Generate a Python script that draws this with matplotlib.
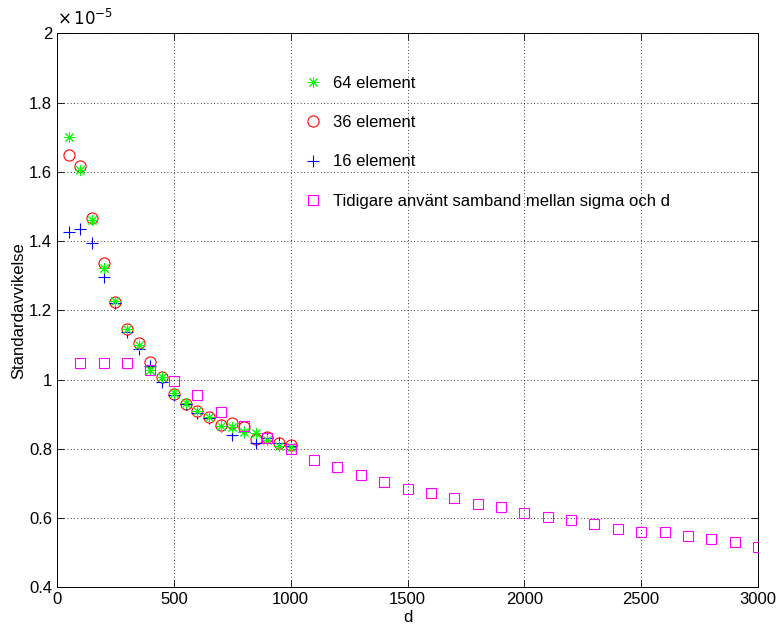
import matplotlib
matplotlib.use("Agg")
import matplotlib.pyplot as plt
import numpy as np

plt.rcParams['font.family'] = ['Liberation Sans Narrow', 'Liberation Sans', 'DejaVu Sans']

# Data (values in units of 1e-5)
d_elem = [50, 100, 150, 200, 250, 300, 350, 400, 450, 500,
          550, 600, 650, 700, 750, 800, 850, 900, 950, 1000]
sigma_64 = [1.702, 1.605, 1.461, 1.321, 1.228, 1.145, 1.100, 1.028, 1.008, 0.960,
            0.931, 0.908, 0.893, 0.866, 0.864, 0.849, 0.845, 0.825, 0.808, 0.806]
sigma_36 = [1.649, 1.617, 1.466, 1.336, 1.225, 1.145, 1.105, 1.050, 1.008, 0.958,
            0.928, 0.908, 0.893, 0.870, 0.873, 0.862, 0.827, 0.835, 0.817, 0.810]
sigma_16 = [1.427, 1.435, 1.394, 1.297, 1.220, 1.138, 1.087, 1.039, 0.994, 0.955,
            0.928, 0.902, 0.890, 0.866, 0.840, 0.849, 0.816, 0.830, 0.817, 0.808]

d_old = [100, 200, 300, 400, 500, 600, 700, 800, 900, 1000,
         1100, 1200, 1300, 1400, 1500, 1600, 1700, 1800, 1900, 2000,
         2100, 2200, 2300, 2400, 2500, 2600, 2700, 2800, 2900, 3000]
sigma_old = [1.047, 1.047, 1.047, 1.028, 0.997, 0.955, 0.907, 0.866, 0.832, 0.799,
             0.767, 0.748, 0.723, 0.705, 0.685, 0.672, 0.657, 0.641, 0.633, 0.613,
             0.602, 0.593, 0.583, 0.567, 0.559, 0.560, 0.547, 0.538, 0.530, 0.517]

labels = ['64 element', '36 element', '16 element',
          'Tidigare använt samband mellan sigma och d']
xticks = [0, 500, 1000, 1500, 2000, 2500, 3000]
yticks = [0.4, 0.6, 0.8, 1.0, 1.2, 1.4, 1.6, 1.8, 2.0]
yticklabels = ['0.4', '0.6', '0.8', '1', '1.2', '1.4', '1.6', '1.8', '2']

fig = plt.figure(figsize=(7.78, 6.28), dpi=100)
ax = fig.add_axes([57/778, 1-587.2/628, (758-57)/778, (587.2-33.4)/628])

h64, = ax.plot(d_elem, sigma_64, linestyle='none', marker=(8, 2, 0), ms=8,
               mec=(0, 1, 0), mew=0.7, label=labels[0], zorder=5)
h36, = ax.plot(d_elem, sigma_36, linestyle='none', marker='o', ms=8,
               mfc='none', mec=(1, 0, 0), mew=0.8, label=labels[1], zorder=3)
h16, = ax.plot(d_elem, sigma_16, linestyle='none', marker='+', ms=9,
               mec=(0, 0, 1), mew=0.8, label=labels[2], zorder=4)
hold, = ax.plot(d_old, sigma_old, linestyle='none', marker='s', ms=6.5,
                mfc='none', mec=(1, 0, 1), mew=0.8, label=labels[3], zorder=6)

ax.set_xlim(0, 3000)
ax.set_ylim(0.4, 2.0)
ax.set_xticks(xticks)
ax.set_yticks(yticks)
ax.set_yticklabels(yticklabels)
ax.tick_params(direction='in', top=True, right=True, labelsize=12, length=5, width=0.6)
ax.grid(True, linestyle=(0, (1, 3)), color='black', linewidth=0.6)
for s in ax.spines.values():
    s.set_linewidth(0.7)

ax.set_xlabel('d', fontsize=12, labelpad=2)
ax.set_ylabel('Standardavvikelse', fontsize=12, labelpad=2)
ax.text(0.0, 1.008, r'$\times\,10^{-5}$', transform=ax.transAxes, fontsize=12,
        ha='left', va='bottom', family=['DejaVu Sans'])

leg = ax.legend(handles=[h64, h36, h16, hold], loc='upper left',
                bbox_to_anchor=(0.33, 0.95), frameon=False, fontsize=12,
                labelspacing=1.45, handlelength=1.2, handletextpad=0.6,
                numpoints=1)

fig.savefig('out.png', dpi=100)
